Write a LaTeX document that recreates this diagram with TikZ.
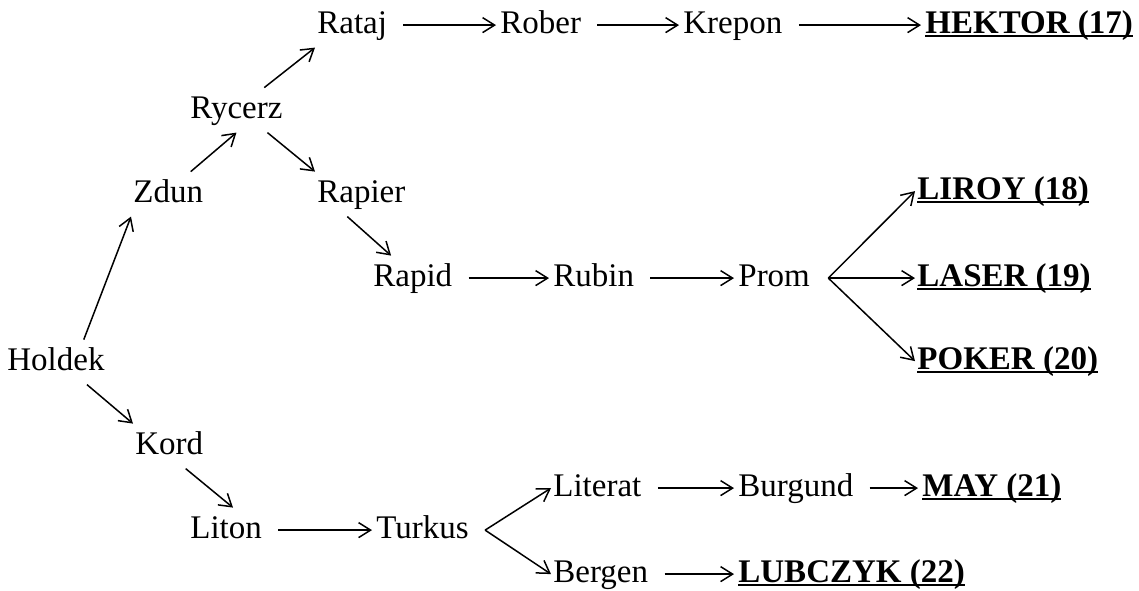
\documentclass[tikz,border=0pt]{standalone}
\usepackage{fontspec}
\setmainfont{Liberation Serif}
\usetikzlibrary{arrows.meta}
\newcommand\goal[1]{\setbox0\hbox{\bfseries #1}\rlap{\rule[-1.8pt]{\wd0}{.6pt}}\box0}
\begin{document}
\begin{tikzpicture}[x=0.5pt,y=-0.5pt,
    word/.style={anchor=base west,inner sep=1pt,outer ysep=3pt,text height=11.2pt,text depth=3.3pt,font=\fontsize{16.5}{20}\selectfont},
    arr/.style={-{Straight Barb[length=6pt,width=7.5pt]},line width=.75pt},
    chain/.style={arr,shorten <=7pt,shorten >=1pt}]
      \useasboundingbox (0,0) rectangle (1139,590);
      % top branch
      \node[word] (holdek) at (5,370) {Holdek};
      \node[word] (zdun) at (131,202) {Zdun};
      \node[word] (rycerz) at (188,118) {Rycerz};
      \node[word] (rataj) at (315,33) {Rataj};
      \node[word] (rober) at (498,33) {Rober};
      \node[word] (krepon) at (681,33) {Krepon};
      \node[word] (hektor) at (923,33) {\goal{HEKTOR (17)}};
      \node[word] (rapier) at (315,202) {Rapier};
      \node[word] (rapid) at (371,286) {Rapid};
      \node[word] (rubin) at (551,286) {Rubin};
      \node[word] (prom) at (736,286) {Prom};
      \node[word] (liroy) at (915,199) {\goal{LIROY (18)}};
      \node[word] (laser) at (915,286) {\goal{LASER (19)}};
      \node[word] (poker) at (915,369) {\goal{POKER (20)}};
      % bottom branch
      \node[word] (kord) at (133,454) {Kord};
      \node[word] (liton) at (188,538) {Liton};
      \node[word] (turkus) at (374,538) {Turkus};
      \node[word] (literat) at (551,496) {Literat};
      \node[word] (burgund) at (736,496) {Burgund};
      \node[word] (may) at (920,496) {\goal{MAY (21)}};
      \node[word] (bergen) at (551,582) {Bergen};
      \node[word] (lubczyk) at (736,582) {\goal{LUBCZYK (22)}};
      % arrows
      \draw[arr] (holdek.39) -- (zdun.south west);
      \draw[arr] (zdun.45) -- (rycerz.south);
      \draw[arr] (rycerz.39) -- (rataj.south west);
      \draw[arr] (rycerz.-36) -- (rapier.north west);
      \draw[arr] (rapier.-122) -- (rapid.134);
      \draw[chain] (rataj) -- (rober);
      \draw[chain] (rober) -- (krepon);
      \draw[chain] (krepon) -- (hektor);
      \draw[chain] (rapid) -- (rubin);
      \draw[chain] (rubin) -- (prom);
      \draw[arr] ([xshift=8pt]prom.east) -- (liroy.west);
      \draw[arr] ([xshift=8pt]prom.east) -- (laser.west);
      \draw[arr] ([xshift=8pt]prom.east) -- (poker.west);
      \draw[arr] (holdek.-36) -- (kord.north west);
      \draw[arr] (kord.-54) -- (liton.73);
      \draw[chain] (liton) -- (turkus);
      \draw[arr] ([xshift=7pt]turkus.east) -- (literat.west);
      \draw[arr] ([xshift=7pt]turkus.east) -- (bergen.west);
      \draw[chain] (literat) -- (burgund);
      \draw[chain] (burgund) -- (may);
      \draw[chain] (bergen) -- (lubczyk);
\end{tikzpicture}
\end{document}
